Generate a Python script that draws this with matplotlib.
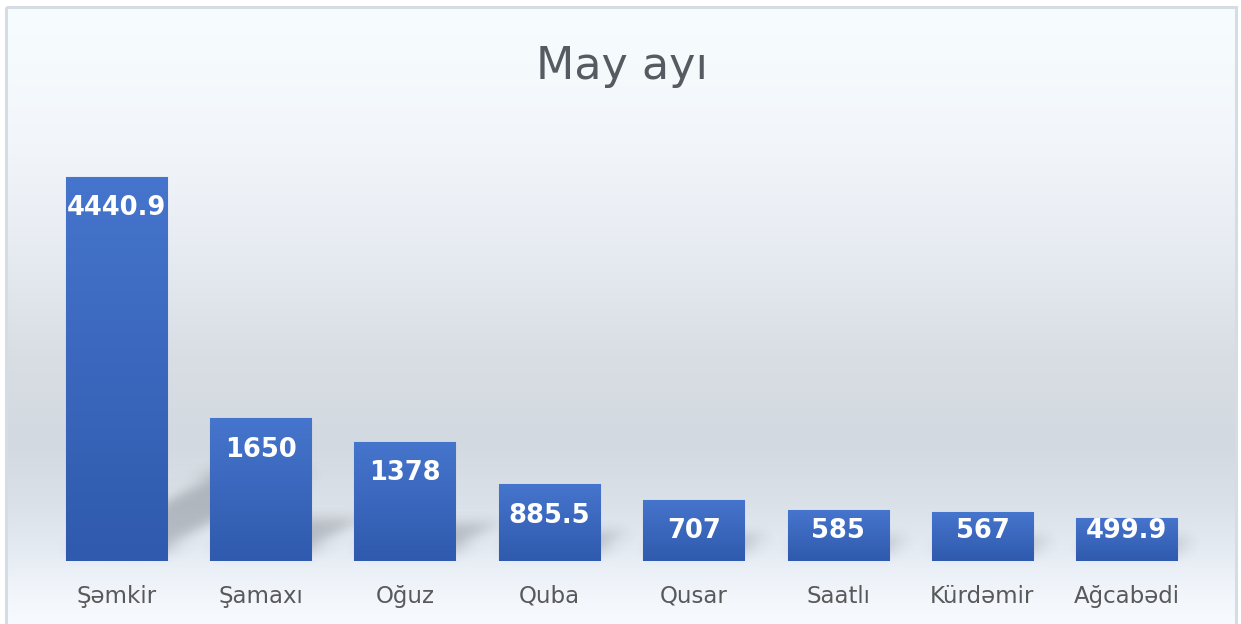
#!/usr/bin/env python3
import numpy as np
import matplotlib
matplotlib.use("Agg")
import matplotlib.pyplot as plt
from matplotlib.colors import LinearSegmentedColormap
from matplotlib.patches import Rectangle, Polygon

regions = ["Şəmkir", "Şamaxı", "Oğuz", "Quba", "Qusar", "Saatlı", "Kürdəmir", "Ağcabədi"]
values = [4440.9, 1650, 1378, 885.5, 707, 585, 567, 499.9]
value_labels = ["4440.9", "1650", "1378", "885.5", "707", "585", "567", "499.9"]
title = "May ayı"

plt.rcParams['font.family'] = ['DejaVu Sans']

W, H = 1241, 624
fig = plt.figure(figsize=(W / 100, H / 100), dpi=100)
fig.patch.set_facecolor("white")

# background gradient inside the chart frame
bg = fig.add_axes([0, 0, 1, 1], zorder=0)
bg.set_xlim(0, W)
bg.set_ylim(H, 0)
bg.axis("off")
bg_cmap = LinearSegmentedColormap.from_list("bg", [
    (0.0, "#f7fdfe"), (0.22, "#f2f6fb"), (0.40, "#e6ebf1"), (0.56, "#d9dee5"),
    (0.70, "#d3d9e0"), (0.80, "#dbe1e8"), (0.88, "#e6ecf4"), (0.95, "#f3f7fc"), (1.0, "#f8fbfe")])
grad = np.linspace(0, 1, 256).reshape(-1, 1)
bg.imshow(grad, cmap=bg_cmap, aspect="auto", extent=(6, 1236, 630, 7), zorder=0)
bg.add_patch(Rectangle((6, 7), 1230, 640, fill=False, edgecolor="#d6dce4", linewidth=2.2, zorder=1))
bg.text(622, 79, title, ha="center", va="baseline", fontsize=32, color="#565b61")

ax = fig.add_axes([44 / W, 63 / H, 1155 / W, 432 / H], zorder=1)
ax.patch.set_alpha(0)
ymax = 5000
for s in ax.spines.values():
    s.set_visible(False)
ax.set_yticks([])
x = np.arange(len(values))
ax.set_xticks(x)
ax.set_xticklabels(regions, fontsize=16.5, color="#595959")
ax.tick_params(axis="x", length=0, pad=17)


class Blur:
    def __init__(self, sigma):
        self.sigma = sigma

    def __call__(self, im, dpi):
        pad = int(3 * self.sigma)
        src = np.pad(im, [(pad, pad), (pad, pad), (0, 0)], "constant")
        t = np.arange(-pad, pad + 1)
        k = np.exp(-t ** 2 / (2 * self.sigma ** 2))
        k /= k.sum()
        out = np.zeros_like(src)
        for i, w in zip(t, k):
            out += w * np.roll(src, i, axis=0)
        out2 = np.zeros_like(src)
        for i, w in zip(t, k):
            out2 += w * np.roll(out, i, axis=1)
        return out2, -pad, -pad


width = 0.7
lift = 130
for xi, v in zip(x, values):
    dx = v / ymax * 1.15
    top = lift + v * 0.2
    shadow = Polygon([(xi - width / 2, lift), (xi + width / 2, lift),
                      (xi + width / 2 + dx, top), (xi - width / 2 + dx, top)],
                     closed=True, facecolor="#4c535c", edgecolor="none", alpha=0.3, zorder=1)
    shadow.set_agg_filter(Blur(7))
    ax.add_patch(shadow)

bar_cmap = LinearSegmentedColormap.from_list("bar", ["#2f5aad", "#4675cd"])
bars = ax.bar(x, values, width=width, color="#3b66bd", edgecolor="#6b8fd6", linewidth=0.8, zorder=2)
for b, v, lab in zip(bars, values, value_labels):
    x0 = b.get_x()
    im = ax.imshow(grad[::-1], cmap=bar_cmap, aspect="auto",
                   extent=(x0, x0 + b.get_width(), 0, v), zorder=2.5)
    im.set_clip_path(b)
    # inside-end label, kept inside short bars
    ax.text(x0 + b.get_width() / 2, max(v - 360, 350), lab, ha="center", va="center",
            fontsize=18.5, fontweight="bold", color="white", zorder=3)
ax.set_xlim(-0.5, len(values) - 0.5)
ax.set_ylim(0, ymax)

fig.savefig("out.png", dpi=100)
